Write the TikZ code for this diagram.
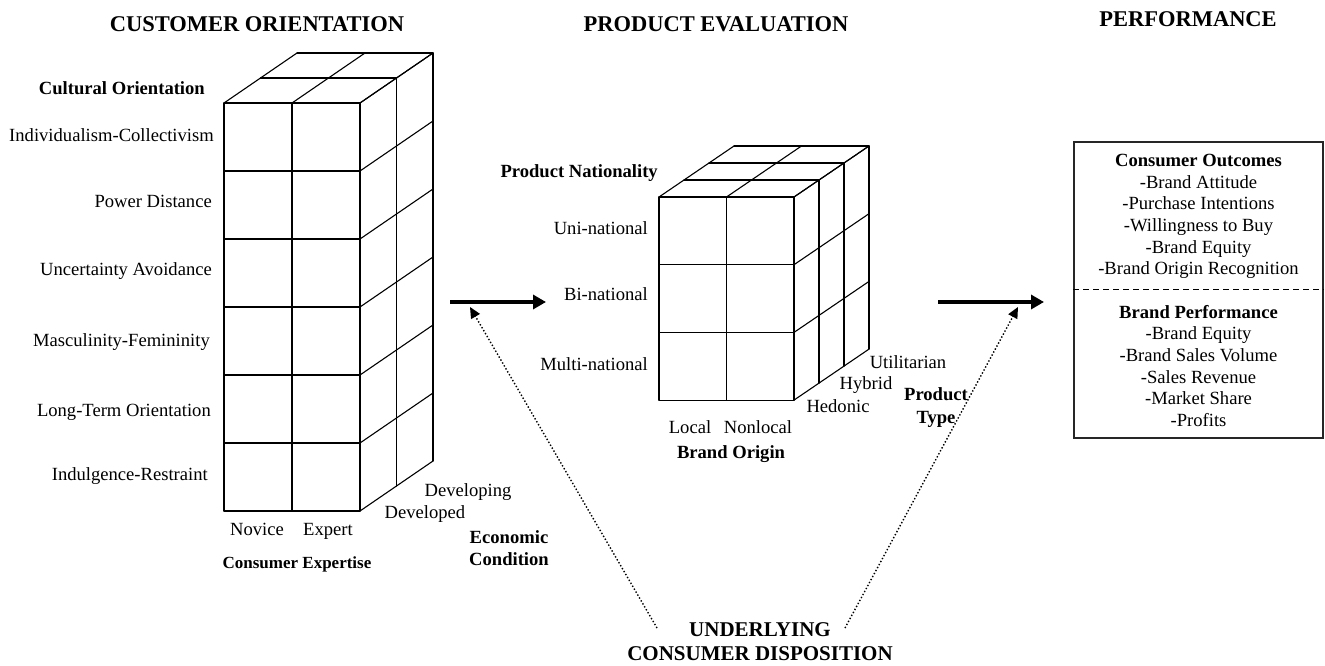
\documentclass[tikz,border=0pt]{standalone}
\usepackage{fontspec}
\setmainfont{Liberation Serif}
\usetikzlibrary{arrows.meta}

\tikzset{
  grid/.style={line width=1.1pt, line cap=round, line join=round},
  lbl/.style={inner sep=0pt, font=\fontsize{18.6}{21.7}\selectfont},
  sub/.style={inner sep=0pt, font=\fontsize{18.6}{21.7}\selectfont\bfseries},
  heading/.style={inner sep=0pt, font=\fontsize{22.5}{27}\selectfont\bfseries},
  flow/.style={line width=4.5pt, -{Triangle[length=13pt,width=14pt]}},
  influence/.style={line width=1.4pt, dotted, -{Triangle[length=11pt,width=10pt]}},
}

\begin{document}
\begin{tikzpicture}[x=1pt,y=-1pt]
\useasboundingbox (0,0) rectangle (1325,666);

% ---------- headings ----------
\node[heading, anchor=base] (h1) at (257,32) {CUSTOMER ORIENTATION};
\node[heading, anchor=base] (h2) at (716,32) {PRODUCT EVALUATION};
\node[heading, anchor=base] (h3) at (1188,27) {PERFORMANCE};

% ---------- customer orientation cube: 2 x 6 x 2 ----------
\def\cx{224}\def\cy{103}\def\cw{68}\def\ch{68}\def\dx{36.5}\def\dy{-25}
\begin{scope}[grid]
  % front face
  \foreach \i in {0,1,2}
    \draw (\cx+\i*\cw,\cy) -- (\cx+\i*\cw,\cy+6*\ch);
  \foreach \j in {0,...,6}
    \draw (\cx,\cy+\j*\ch) -- (\cx+2*\cw,\cy+\j*\ch);
  % top face
  \foreach \i in {0,1,2}
    \draw (\cx+\i*\cw,\cy) -- (\cx+\i*\cw+2*\dx,\cy+2*\dy);
  \foreach \d in {1,2}
    \draw (\cx+\d*\dx,\cy+\d*\dy) -- (\cx+2*\cw+\d*\dx,\cy+\d*\dy);
  % side face
  \foreach \d in {1,2}
    \draw (\cx+2*\cw+\d*\dx,\cy+\d*\dy) -- (\cx+2*\cw+\d*\dx,\cy+6*\ch+\d*\dy);
  \foreach \j in {0,...,6}
    \draw (\cx+2*\cw,\cy+\j*\ch) -- (\cx+2*\cw+2*\dx,\cy+\j*\ch+2*\dy);
\end{scope}

\node[sub, anchor=base east] (cult) at (205,95) {Cultural Orientation};
\node[lbl, anchor=base east] (d1) at (214,142) {Individualism-Collectivism};
\node[lbl, anchor=base east] (d2) at (212,207) {Power Distance};
\node[lbl, anchor=base east] (d3) at (212,275) {Uncertainty Avoidance};
\node[lbl, anchor=base east] (d4) at (210,346) {Masculinity-Femininity};
\node[lbl, anchor=base east] (d5) at (211,416) {Long-Term Orientation};
\node[lbl, anchor=base east] (d6) at (208,480) {Indulgence-Restraint};

\node[lbl, anchor=base] (nov) at (257,535) {Novice};
\node[lbl, anchor=base] (exp) at (328,535) {Expert};
\node[sub, anchor=base, font=\fontsize{17}{20}\selectfont\bfseries] (cexp) at (297,568) {Consumer Expertise};
\node[lbl, anchor=base] (dvg) at (468,496) {Developing};
\node[lbl, anchor=base] (dvd) at (425,518) {Developed};
\node[sub, anchor=base] (eco1) at (509,543) {Economic};
\node[sub, anchor=base] (eco2) at (509,565) {Condition};

% ---------- product evaluation cube: 2 x 3 x 3 ----------
\def\px{659}\def\py{197}\def\pw{67.5}\def\ph{67.7}\def\ex{25}\def\ey{-17}
\begin{scope}[grid]
  \foreach \i in {0,1,2}
    \draw (\px+\i*\pw,\py) -- (\px+\i*\pw,\py+3*\ph);
  \foreach \j in {0,...,3}
    \draw (\px,\py+\j*\ph) -- (\px+2*\pw,\py+\j*\ph);
  \foreach \i in {0,1,2}
    \draw (\px+\i*\pw,\py) -- (\px+\i*\pw+3*\ex,\py+3*\ey);
  \foreach \d in {1,2,3}
    \draw (\px+\d*\ex,\py+\d*\ey) -- (\px+2*\pw+\d*\ex,\py+\d*\ey);
  \foreach \d in {1,2,3}
    \draw (\px+2*\pw+\d*\ex,\py+\d*\ey) -- (\px+2*\pw+\d*\ex,\py+3*\ph+\d*\ey);
  \foreach \j in {0,...,3}
    \draw (\px+2*\pw,\py+\j*\ph) -- (\px+2*\pw+3*\ex,\py+\j*\ph+3*\ey);
\end{scope}

\node[sub, anchor=base east] (pnat) at (658,178) {Product Nationality};
\node[lbl, anchor=base east] (n1) at (648,234) {Uni-national};
\node[lbl, anchor=base east] (n2) at (648,300) {Bi-national};
\node[lbl, anchor=base east] (n3) at (648,370) {Multi-national};
\node[lbl, anchor=base] (loc) at (690,433) {Local};
\node[lbl, anchor=base] (nloc) at (758,433) {Nonlocal};
\node[sub, anchor=base] (borig) at (731,458) {Brand Origin};
\node[lbl, anchor=base] (hed) at (838,412) {Hedonic};
\node[lbl, anchor=base] (hyb) at (866,389) {Hybrid};
\node[lbl, anchor=base] (utl) at (908,368) {Utilitarian};
\node[sub, anchor=base] (pt1) at (936,400) {Product};
\node[sub, anchor=base] (pt2) at (936,423) {Type};

% ---------- performance box ----------
\node[draw, line width=1.2pt, draw=black!85, minimum width=249pt, minimum height=296pt, inner sep=0pt]
  (perf) at (1198.5,290) {};
\draw[line width=1pt, dash pattern=on 6pt off 4pt] ([yshift=1pt]perf.west) -- ([yshift=1pt]perf.east);
\node[sub, anchor=base] (co) at (1198.5,167) {Consumer Outcomes};
\foreach \t [count=\i] in {-Brand Attitude,-Purchase Intentions,-Willingness to Buy,-Brand Equity,-Brand Origin Recognition}
  \node[lbl, anchor=base] (co\i) at (1198.5,188+21.7*\i-21.7) {\t};
\node[sub, anchor=base] (bp) at (1198.5,318) {Brand Performance};
\foreach \t [count=\i] in {-Brand Equity,-Brand Sales Volume,-Sales Revenue,-Market Share,-Profits}
  \node[lbl, anchor=base] (bp\i) at (1198.5,339.7+21.7*\i-21.7) {\t};

% ---------- underlying disposition ----------
\node[anchor=base, inner sep=0pt, font=\fontsize{21}{25}\selectfont\bfseries, align=center] (und1) at (760,636) {UNDERLYING};
\node[anchor=base, inner sep=0pt, font=\fontsize{21}{25}\selectfont\bfseries] (und2) at (760,660) {CONSUMER DISPOSITION};

% ---------- arrows ----------
\coordinate (f1s) at (450,302);
\coordinate (f1e) at (546,302);
\coordinate (f2s) at (938,302);
\coordinate (f2e) at (1044,302);
\draw[flow] (f1s) -- (f1e);
\draw[flow] (f2s) -- (f2e);

\coordinate (i1s) at (657,628);
\coordinate (i1e) at (470,307);
\coordinate (i2s) at (845,628);
\coordinate (i2e) at (1018,307);
\draw[influence] (i1s) -- (i1e);
\draw[influence] (i2s) -- (i2e);
\end{tikzpicture}
\end{document}
